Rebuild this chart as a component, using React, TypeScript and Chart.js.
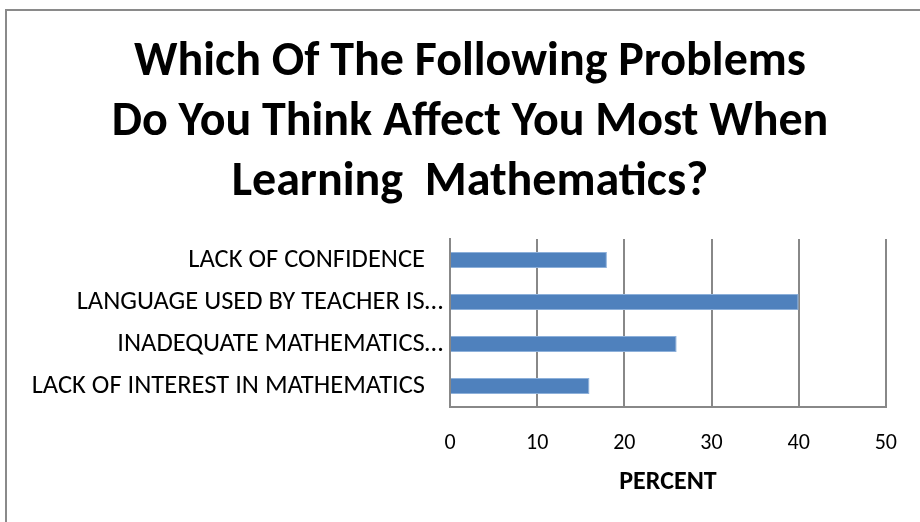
import React, { useEffect, useRef } from "react";
import { Chart, registerables } from "chart.js";

Chart.register(...registerables);

const categories = [
  "LACK OF CONFIDENCE   ",
  "LANGUAGE USED BY TEACHER IS…",
  "INADEQUATE MATHEMATICS…",
  "LACK OF INTEREST IN MATHEMATICS   ",
];
const percentValues = [18, 40, 26, 16];
const xTickValues = [0, 10, 20, 30, 40, 50];
const titleLines = [
  "Which Of The Following Problems",
  "Do You Think Affect You Most When",
  "Learning  Mathematics?",
];
const xAxisTitle = "PERCENT";

const FONT = "Carlito, Lato, 'Open Sans', sans-serif";

const titleCenterPlugin = {
  id: "titleCenter",
  afterLayout(chart: any) {
    const t = chart.titleBlock;
    if (t) {
      t.left = 20;
      t.right = 920;
    }
  },
};

export default function App() {
  const ref = useRef<HTMLCanvasElement | null>(null);

  useEffect(() => {
    document.body.style.margin = "0";
    const canvas = ref.current;
    if (!canvas) return;
    const chart = new Chart(canvas, {
      type: "bar",
      data: {
        labels: categories,
        datasets: [
          {
            label: xAxisTitle,
            data: percentValues,
            backgroundColor: "#4f81bd",
            borderColor: "#8db0da",
            borderWidth: 1,
            barPercentage: 0.38,
            categoryPercentage: 1,
          },
        ],
      },
      plugins: [titleCenterPlugin],
      options: {
        indexAxis: "y",
        animation: false,
        responsive: false,
        maintainAspectRatio: false,
        layout: { padding: { left: 10, right: 33, top: 0, bottom: 0 } },
        plugins: {
          legend: { display: false },
          tooltip: { enabled: false },
          title: {
            display: true,
            text: titleLines,
            color: "#000",
            font: { family: FONT, size: 48, weight: "bold", lineHeight: 60 / 48 },
            padding: { top: 33, bottom: 26 },
          },
        },
        scales: {
          x: {
            type: "linear",
            min: 0,
            max: 50,
            afterBuildTicks: (scale: any) => {
              scale.ticks = xTickValues.map((v) => ({ value: v }));
            },
            afterFit: (scale: any) => {
              scale.height = 115;
            },
            grid: {
              display: true,
              color: "#888888",
              lineWidth: 2,
              drawTicks: false,
            },
            border: { display: true, color: "#888888", width: 2 },
            ticks: {
              color: "#000",
              padding: 23,
              font: { family: FONT, size: 22 },
            },
            title: {
              display: true,
              text: xAxisTitle,
              color: "#000",
              font: { family: FONT, size: 26, weight: "bold" },
              padding: { top: 0, bottom: 24 },
            },
          },
          y: {
            afterFit: (scale: any) => {
              scale.width = 450 - 10;
            },
            grid: { display: false, drawTicks: false },
            border: { display: true, color: "#888888", width: 2 },
            ticks: {
              color: "#000",
              padding: 7,
              font: { family: FONT, size: 26.5 },
            },
          },
        },
      },
    });
    return () => chart.destroy();
  }, []);

  return (
    <div style={{ position: "relative", width: 920, height: 522, overflow: "hidden", background: "#fff" }}>
      <div
        style={{
          position: "absolute",
          left: 5,
          top: 9,
          width: 1000,
          height: 1000,
          borderLeft: "2px solid #8a8a8a",
          borderTop: "2px solid #8a8a8a",
        }}
      />
      <canvas ref={ref} width={920} height={522} style={{ position: "absolute", left: 0, top: 0 }} />
    </div>
  );
}
